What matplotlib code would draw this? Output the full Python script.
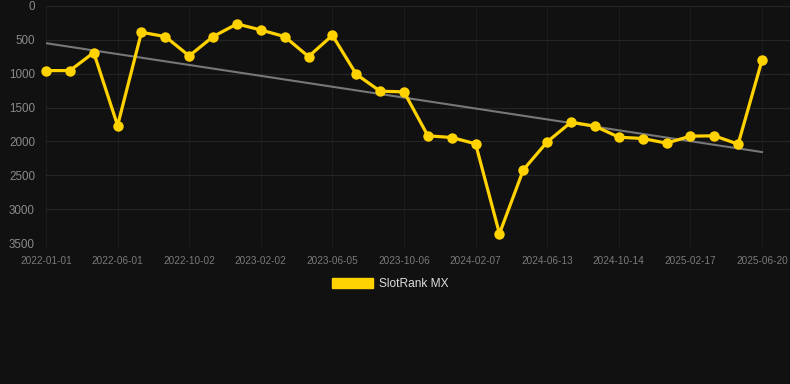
import numpy as np
import matplotlib
matplotlib.use("Agg")
import matplotlib.pyplot as plt
from matplotlib.patches import Patch

plt.rcParams['font.family'] = ['Liberation Sans', 'DejaVu Sans']

# rank per snapshot (lower is better, axis inverted)
ranks = [954, 954, 688, 1765, 388, 452, 737, 452, 265, 354,
         452, 747, 433, 1008, 1258, 1268, 1917, 1942, 2035, 3363,
         2419, 2006, 1716, 1775, 1937, 1957, 2025, 1922, 1917, 2040,
         801]
tick_labels = ['2022-01-01', '2022-06-01', '2022-10-02', '2023-02-02',
               '2023-06-05', '2023-10-06', '2024-02-07', '2024-06-13',
               '2024-10-14', '2025-02-17', '2025-06-20']
tick_step = 3
y_ticks = [0, 500, 1000, 1500, 2000, 2500, 3000, 3500]

bg = '#111111'
hgrid = '#252525'
vgrid = '#1c1c1c'
gold = '#FFD200'

fig = plt.figure(figsize=(7.9, 3.84), dpi=100, facecolor=bg)
ax = fig.add_axes([46/790, 1 - 243/384, 1 - 46/790, 237/384], facecolor=bg)

x = np.arange(len(ranks))
# linear trend
k, b = np.polyfit(x, ranks, 1)
ax.plot(x, k * x + b, color='#777777', lw=1.5, zorder=2)

ax.plot(x, ranks, color=gold, lw=2.3, marker='o', markersize=7.5,
        markeredgewidth=0, zorder=3, clip_on=False)

ax.set_xlim(0, (790 - 46) / ((762 - 46) / 30))
ax.set_ylim(3500, 0)
ax.set_yticks(y_ticks)
ax.set_xticks(x[::tick_step])
ax.set_xticklabels(tick_labels)

ax.tick_params(axis='y', colors=hgrid, labelcolor='#8a8a8a', labelsize=8.4,
               length=0, pad=8)
ax.tick_params(axis='x', colors=vgrid, labelcolor='#7a7a7a', labelsize=7.2,
               length=4, pad=5)
ax.grid(True, axis='y', color=hgrid, lw=0.8)
ax.grid(True, axis='x', color=vgrid, lw=0.8)
for s in ax.spines.values():
    s.set_visible(False)

fig.legend(handles=[Patch(facecolor=gold, edgecolor=gold, label='SlotRank MX')],
           loc='center', bbox_to_anchor=(390/790, 1 - 284/384), frameon=False,
           fontsize=8.6, labelcolor='#dddddd', handlelength=3.4,
           handleheight=1.0, handletextpad=0.5)

fig.savefig('out.png', dpi=100, facecolor=bg)
